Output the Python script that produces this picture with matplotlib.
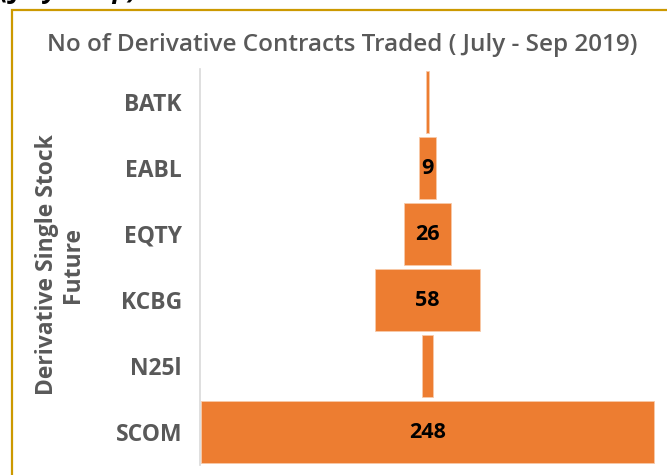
import matplotlib
matplotlib.use("Agg")
import matplotlib.pyplot as plt
from matplotlib.patches import Rectangle

categories = ["BATK", "EABL", "EQTY", "KCBG", "N25l", "SCOM"]
values = [2, 9, 26, 58, 6, 248]
labels = ["", "9", "26", "58", "", "248"]

plt.rcParams['font.family'] = ['Open Sans', 'DejaVu Sans']

fig = plt.figure(figsize=(6.67, 4.75), dpi=100)
W, H = 667, 475

# golden border of the chart box
fig.patches.append(Rectangle((12 / W, -0.05), 1.2, (475 - 10) / H + 0.05,
                             transform=fig.transFigure, fill=False,
                             edgecolor="#CC9900", linewidth=1.6))

# cut-off heading from above
fig.text(0.0, 1.0 + 9 / H, "(July \u2013 Sep) 2019", fontsize=19, fontweight="bold",
         fontstyle="italic", color="black", ha="left", va="center")

ax = fig.add_axes([200 / W, (475 - 465) / H, (655 - 200) / W, (465 - 69) / H])

ypos = list(range(len(categories)))
lefts = [-v / 2 for v in values]
ax.barh(ypos, values, left=lefts, height=0.93, color="#ED7D31",
        edgecolor="#F8C9A8", linewidth=0.6)
for y, lab in zip(ypos, labels):
    if lab:
        ax.text(0, y, lab, ha="center", va="center", fontsize=15.5,
                fontweight="bold", color="black")

ax.set_xlim(-124.5, 124.5)
ax.set_ylim(len(categories) - 0.5, -0.5)
ax.set_yticks(ypos)
ax.set_yticklabels(categories, fontsize=16.5, fontweight="bold", color="#595959")
ax.tick_params(axis="y", length=0, pad=13)
ax.set_xticks([])
for s in ["top", "right", "bottom"]:
    ax.spines[s].set_visible(False)
ax.spines["left"].set_color("#D9D9D9")
ax.spines["left"].set_linewidth(1.2)

fig.text(60 / W, 1 - 265 / H, "Derivative Single Stock\nFuture", rotation=90,
         ha="center", va="center", fontsize=16.5, fontweight="bold",
         color="#595959", linespacing=1.15)

fig.text(342 / W, 1 - 45 / H, "No of Derivative Contracts Traded ( July - Sep 2019)",
         ha="center", va="center", fontsize=17.5, fontweight=600, color="#595959")

fig.savefig("out.png", dpi=100)
